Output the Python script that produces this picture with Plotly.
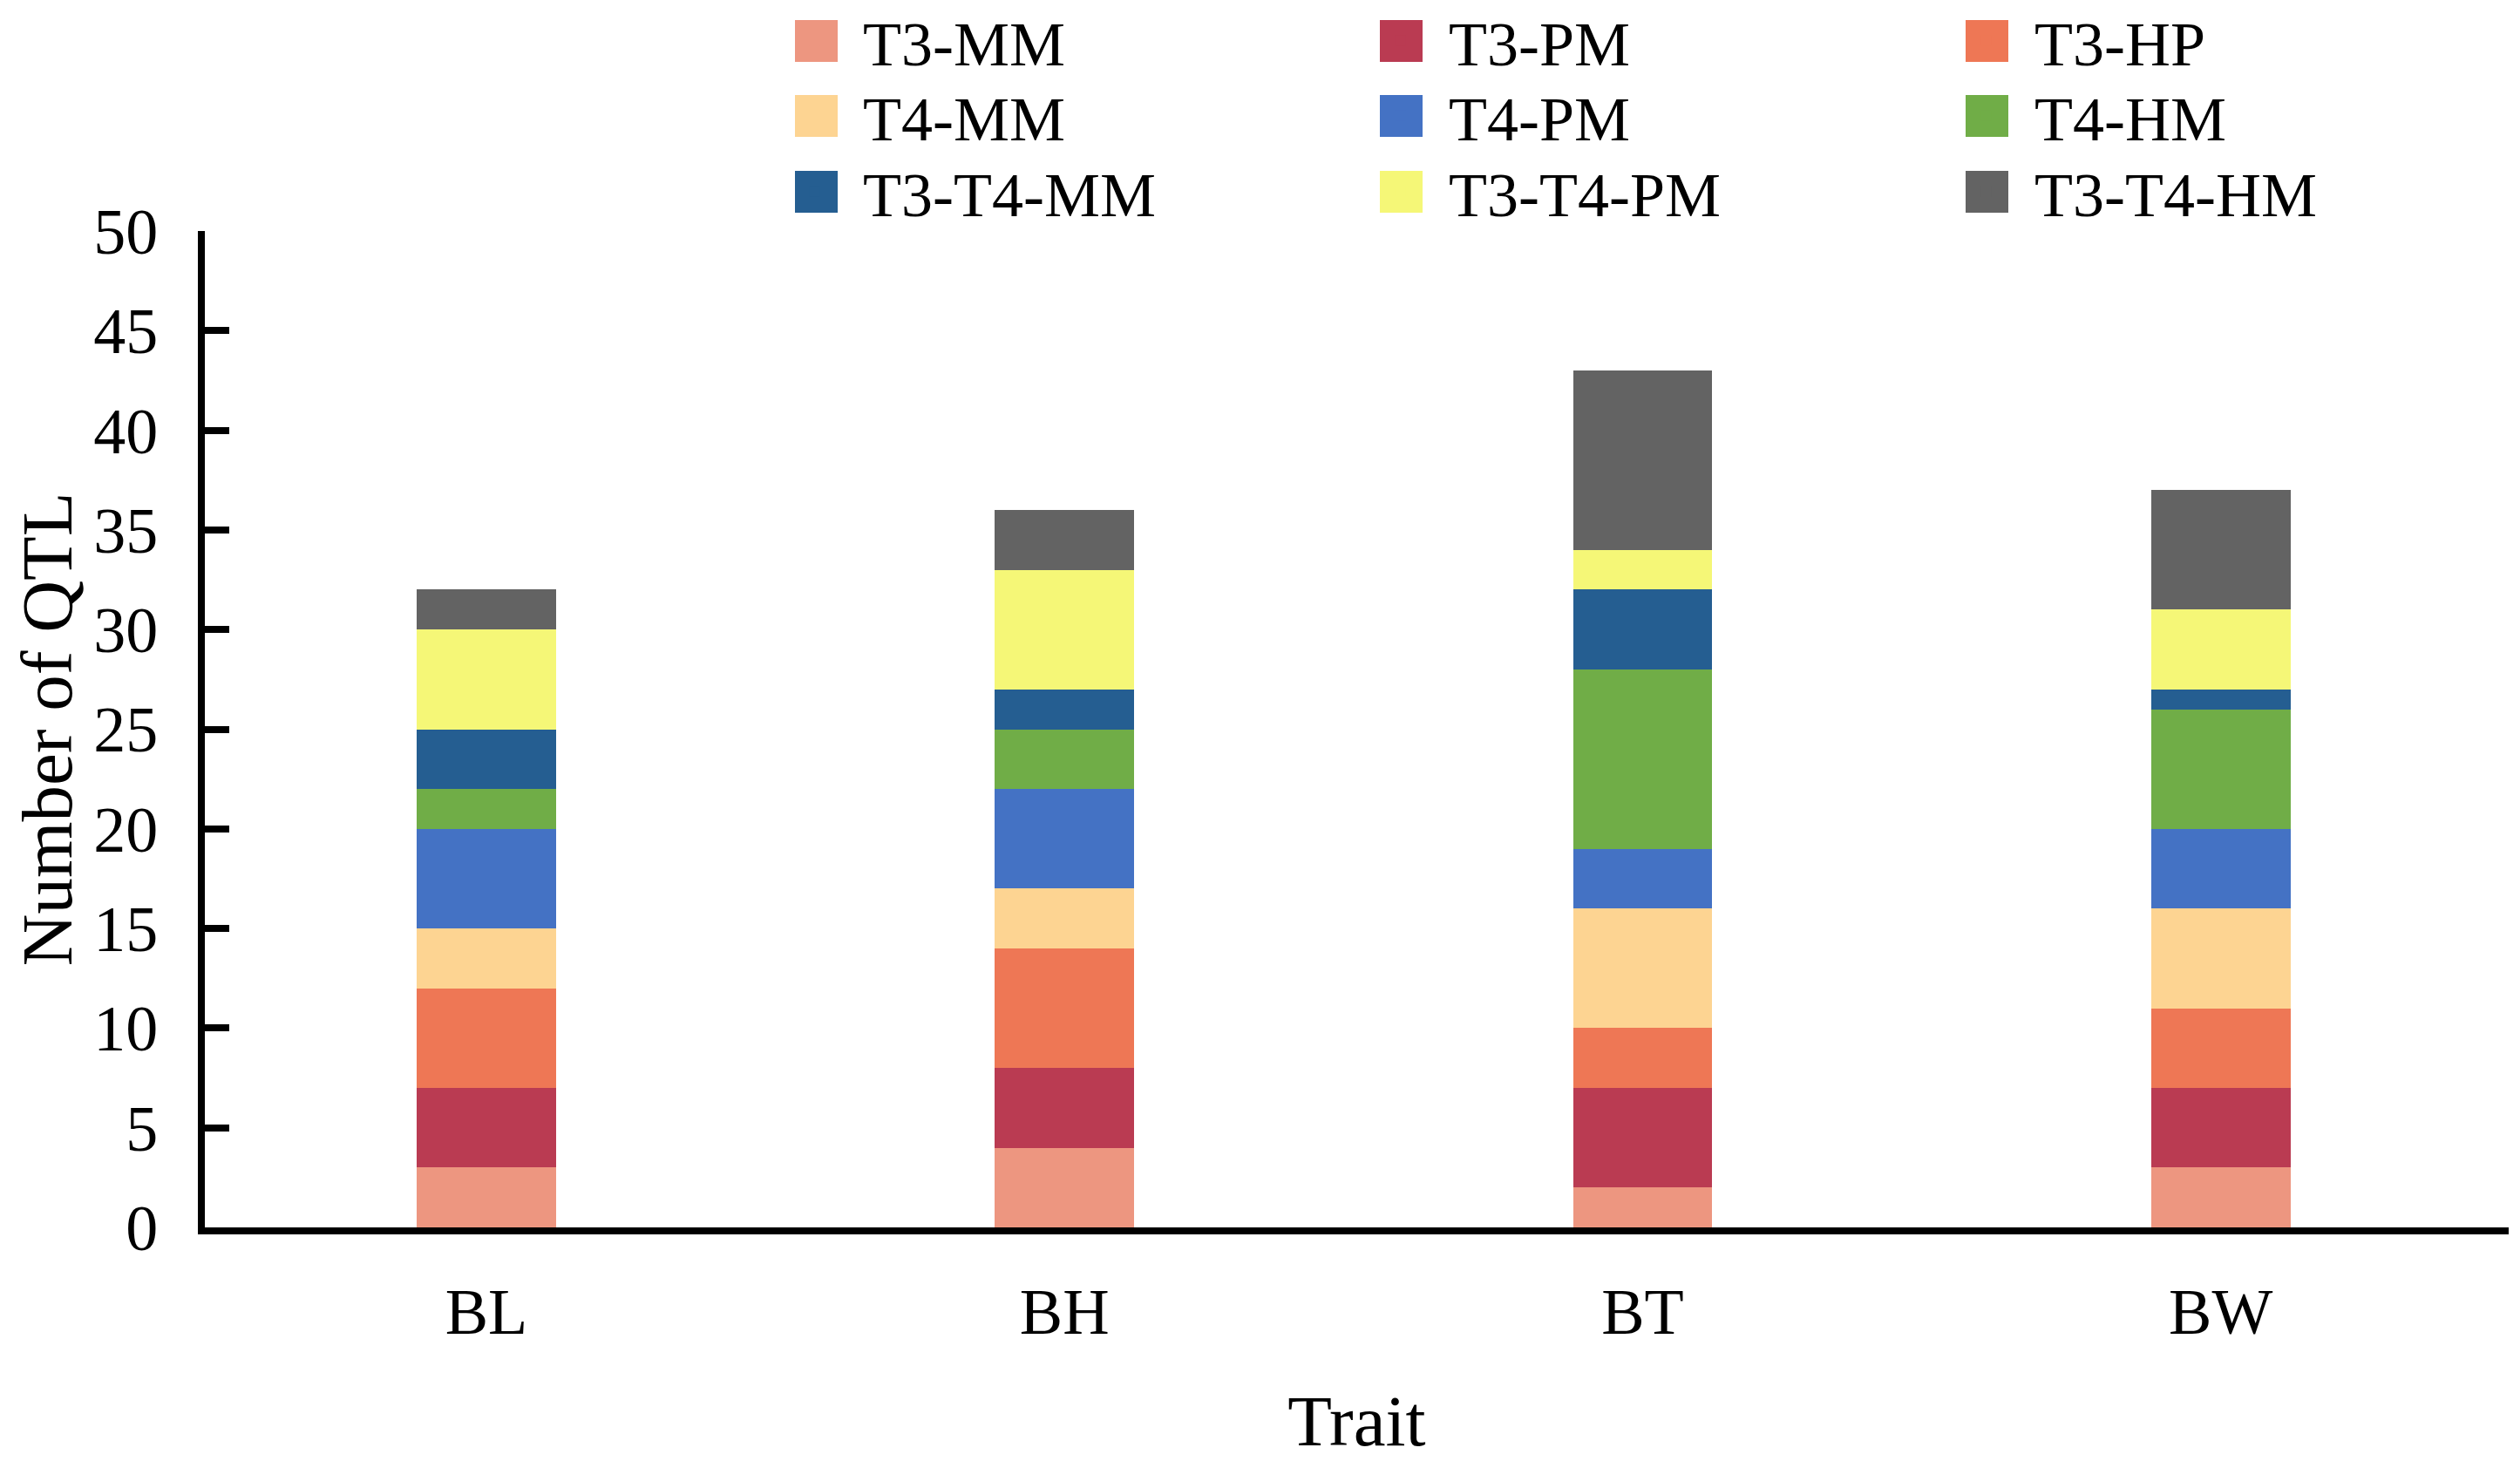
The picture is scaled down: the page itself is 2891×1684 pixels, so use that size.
import plotly.graph_objects as go

traits = ["BL", "BH", "BT", "BW"]
series_names = ["T3-MM", "T3-PM", "T3-HP", "T4-MM", "T4-PM", "T4-HM",
                "T3-T4-MM", "T3-T4-PM", "T3-T4-HM"]
t3_mm = [3, 4, 2, 3]
t3_pm = [4, 4, 5, 4]
t3_hp = [5, 6, 3, 4]
t4_mm = [3, 3, 6, 5]
t4_pm = [5, 5, 3, 4]
t4_hm = [2, 3, 9, 6]
t3t4_mm = [3, 2, 4, 1]
t3t4_pm = [5, 6, 2, 4]
t3t4_hm = [2, 3, 9, 6]
series_values = [t3_mm, t3_pm, t3_hp, t4_mm, t4_pm, t4_hm, t3t4_mm, t3t4_pm, t3t4_hm]
colors = ["#ED9680", "#BA3B52", "#EE7755", "#FDD492", "#4472C4", "#70AD47",
          "#255E91", "#F5F777", "#636363"]

FONT = "Liberation Serif, Times New Roman, serif"

# page body has an 8px margin; the figure is sized to fit the window
OFF = 8
W, H = 2891 - 2 * OFF, 1684 - 2 * OFF
ML, MT = 235 - OFF, 265 - OFF
MR = W - (2878 - OFF)
MB = H - (1408 - OFF)
PW, PH = W - ML - MR, H - MT - MB


def px_x(p):
    return (p - OFF - ML) / PW


def px_y(p):
    return (H - MB - (p - OFF)) / PH


# legend grid (page-pixel layout): 3 columns x 3 rows
col_anchor_px = [879, 1551, 2223]
swatch_left_px = [912, 1583, 2255]
row_center_px = [47, 133, 220]
SW = 48

fig = go.Figure()
legend_layout = {}
shapes = []
for i, (name, vals, col) in enumerate(zip(series_names, series_values, colors)):
    lid = "legend" if i == 0 else f"legend{i + 1}"
    fig.add_trace(go.Bar(x=traits, y=vals, name=name, marker_color=col,
                         marker_line_width=0, width=0.241, legend=lid))
    c, r = i % 3, i // 3
    legend_layout[lid] = dict(
        orientation="h", x=px_x(col_anchor_px[c]), xanchor="left", xref="paper",
        y=px_y(row_center_px[r]), yanchor="middle", yref="paper",
        itemwidth=101, font=dict(family=FONT, size=72, color="black"),
        bgcolor="rgba(0,0,0,0)")
    shapes.append(dict(
        type="rect", xref="paper", yref="paper", layer="above",
        x0=px_x(swatch_left_px[c]), x1=px_x(swatch_left_px[c] + SW + 1),
        y0=px_y(row_center_px[r] - SW / 2), y1=px_y(row_center_px[r] + SW / 2),
        fillcolor=col, line_width=0))

fig.update_layout(
    width=W, height=H,
    barmode="stack",
    plot_bgcolor="white", paper_bgcolor="white",
    font=dict(family=FONT, size=74, color="black"),
    margin=dict(l=ML, r=MR, t=MT, b=MB, autoexpand=False),
    showlegend=True,
    shapes=shapes,
    **legend_layout,
)
fig.update_xaxes(
    range=[-0.487, 3.498], showline=True, linecolor="black", linewidth=8,
    ticks="", showgrid=False, ticklabelstandoff=25,
    title=dict(text="Trait", font=dict(family=FONT, size=83), standoff=58),
)
fig.update_yaxes(
    range=[0, 50], dtick=5, showline=True, linecolor="black", linewidth=8,
    ticks="inside", ticklen=28, tickwidth=8, tickcolor="black",
    showgrid=False, zeroline=False, ticklabelstandoff=31,
    title=dict(text="Number of QTL", font=dict(family=FONT, size=83), standoff=44),
)

fig.write_html("out.html")
